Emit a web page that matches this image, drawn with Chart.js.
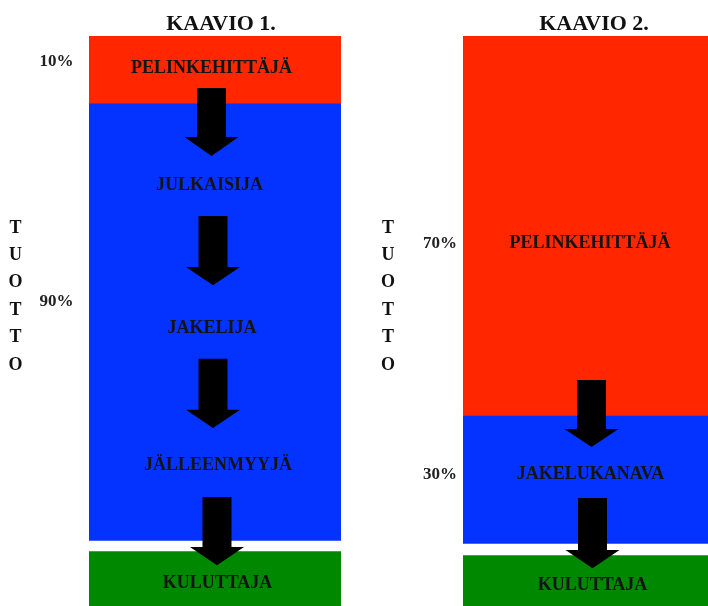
<!DOCTYPE html>
<html>
<head>
<meta charset="utf-8">
<script src="https://cdn.jsdelivr.net/npm/chart.js@4.4.0/dist/chart.umd.min.js"></script>
<style>
  html, body { margin: 0; padding: 0; background: #ffffff; }
  body { width: 708px; height: 606px; position: relative; overflow: hidden; }
  canvas { position: absolute; top: 0; }
  #c1 { left: 0; }
  #c2 { left: 354px; }
</style>
</head>
<body>
<canvas id="c1" width="354" height="606"></canvas>
<canvas id="c2" width="354" height="606"></canvas>
<script>
// ---- data ----
const chartTitles = ['KAAVIO 1.', 'KAAVIO 2.'];
const axisTitle = 'TUOTTO';
// drawn share of each block (units of the revenue column, as drawn)
const developerValues   = [13.3, 75.2];   // red
const channelValues     = [86.7, 25.4];   // blue
const gapValues         = [2.2, 2.4];     // white gap
const consumerValues    = [10.8, 10.0];   // green
// revenue labels
const developerShare = ['10%', '70%'];
const channelShare   = ['90%', '30%'];
// stage names in each chart
const stages1 = ['PELINKEHITTÄJÄ', 'JULKAISIJA', 'JAKELIJA', 'JÄLLEENMYYJÄ', 'KULUTTAJA'];
const stages2 = ['PELINKEHITTÄJÄ', 'JAKELUKANAVA', 'KULUTTAJA'];

// ---- layout (positions in value units of the y-scale, x offsets in px) ----
const layout = [
  {
    padding: { left: 89, right: 13, top: 36, bottom: 0 },
    titleX: 221, titleY: 24,
    axisX: 15.5, axisY0: 228, axisStep: 27.4,
    shareX: 56.5, shareY: [4.96, 52.5],
    stageY: [6.15, 29.5, 57.7, 84.9, 108.4],
    stageDX: [-3.5, -5.5, -3, 3, 2.5],
    arrows: [[10.3, 20.0, 23.8, -3.5], [35.7, 45.8, 49.4, -2], [64.0, 74.1, 77.7, -2], [91.4, 101.3, 104.9, 2]]
  },
  {
    padding: { left: 109, right: 0, top: 36, bottom: 0 },
    titleX: 594 - 354, titleY: 24,
    axisX: 388 - 354, axisY0: 228, axisStep: 27.4,
    shareX: 440 - 354, shareY: [41.0, 86.8],
    stageY: [41.0, 86.8, 108.8],
    stageDX: [4.5, 5, 7],
    arrows: [[68.2, 77.9, 81.5, 6], [91.6, 101.9, 105.5, 7]]
  }
];

const RED = '#ff2600', BLUE = '#0433ff', GREEN = '#008800';

function overlayPlugin(i, stages) {
  return {
    id: 'overlay' + i,
    afterDraw(chart) {
      const L = layout[i];
      const ctx = chart.ctx;
      const ys = chart.scales.y;
      const area = chart.chartArea;
      const cx = (area.left + area.right) / 2;
      ctx.save();
      // arrows
      ctx.fillStyle = '#000';
      L.arrows.forEach(a => {
        const top = ys.getPixelForValue(a[0]);
        const hs = ys.getPixelForValue(a[1]);
        const tip = ys.getPixelForValue(a[2]);
        const x = cx + a[3];
        ctx.beginPath();
        ctx.moveTo(x - 14.5, top);
        ctx.lineTo(x + 14.5, top);
        ctx.lineTo(x + 14.5, hs);
        ctx.lineTo(x + 27, hs);
        ctx.lineTo(x, tip);
        ctx.lineTo(x - 27, hs);
        ctx.lineTo(x - 14.5, hs);
        ctx.closePath();
        ctx.fill();
      });
      ctx.textAlign = 'center';
      ctx.textBaseline = 'middle';
      // stage labels
      ctx.fillStyle = '#141414';
      ctx.font = 'bold 18px "Liberation Serif", serif';
      stages.forEach((s, k) => {
        ctx.fillText(s, cx + L.stageDX[k], ys.getPixelForValue(L.stageY[k]) + 1);
      });
      // title
      ctx.fillStyle = '#111';
      ctx.font = 'bold 22px "Liberation Serif", serif';
      ctx.fillText(chartTitles[i], L.titleX, L.titleY);
      // share labels
      ctx.font = 'bold 17px "Liberation Serif", serif';
      ctx.fillStyle = '#222';
      ctx.fillText(developerShare[i], L.shareX, ys.getPixelForValue(L.shareY[0]) + 1);
      ctx.fillText(channelShare[i], L.shareX, ys.getPixelForValue(L.shareY[1]) + 1);
      // vertical axis title
      ctx.font = 'bold 18px "Liberation Serif", serif';
      ctx.fillStyle = '#111';
      axisTitle.split('').forEach((ch, k) => {
        ctx.fillText(ch, L.axisX, L.axisY0 + k * L.axisStep);
      });
      ctx.restore();
    }
  };
}

function makeChart(id, i, stages) {
  const L = layout[i];
  return new Chart(document.getElementById(id), {
    type: 'bar',
    data: {
      labels: [chartTitles[i]],
      datasets: [
        { label: 'Pelinkehittäjä', data: [developerValues[i]], backgroundColor: RED },
        { label: 'Jakelu', data: [channelValues[i]], backgroundColor: BLUE },
        { label: 'väli', data: [gapValues[i]], backgroundColor: 'rgba(255,255,255,0)' },
        { label: 'Kuluttaja', data: [consumerValues[i]], backgroundColor: GREEN }
      ]
    },
    options: {
      responsive: false,
      animation: false,
      devicePixelRatio: 1,
      layout: { padding: L.padding },
      datasets: { bar: { barPercentage: 1, categoryPercentage: 1, borderWidth: 0 } },
      plugins: { legend: { display: false }, tooltip: { enabled: false }, title: { display: false } },
      scales: {
        x: { stacked: true, display: false },
        y: { stacked: true, display: false, reverse: true, min: 0, max: 113 }
      }
    },
    plugins: [overlayPlugin(i, stages)]
  });
}

makeChart('c1', 0, stages1);
makeChart('c2', 1, stages2);
</script>
</body>
</html>
